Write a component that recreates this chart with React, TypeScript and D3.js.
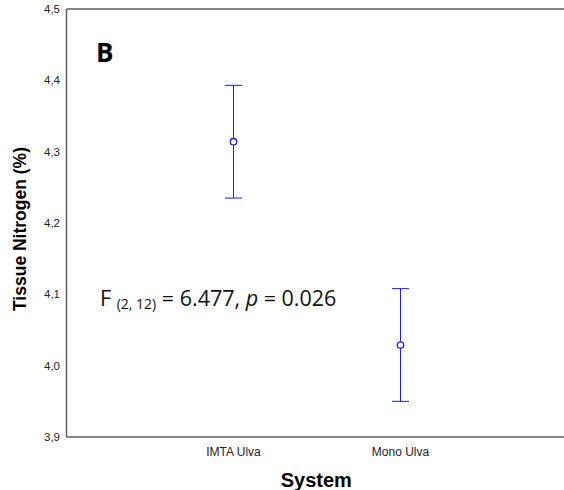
import React from 'react';
import * as d3 from 'd3';

// groups and their means with error half-width
const systems = ['IMTA Ulva', 'Mono Ulva'];
const means = [4.314, 4.029];
const errors = [0.079, 0.079];
const yTicks = [3.9, 4.0, 4.1, 4.2, 4.3, 4.4, 4.5];

const W = 564, H = 490;
const margin = { top: 9, right: 0, bottom: 53, left: 66.5 };

const App = () => {
    const bottom = H - margin.bottom;
    // x runs past the right edge, like the original export
    const x = d3.scalePoint<string>()
        .domain(systems)
        .range([margin.left, 567.5])
        .padding(1);
    const y = d3.scaleLinear()
        .domain([3.9, 4.5])
        .range([bottom, margin.top]);

    const fmt = (v: number) => d3.format('.1f')(v).replace('.', ',');
    const axisColor = '#5f5f5f';
    const blue = '#1a1aff';
    const cap = 8.5;

    return (
        <svg width={W} height={H} style={{ display: 'block', position: 'absolute', left: 0, top: 0, background: '#fff' }}>
            <g fontFamily="'Liberation Sans', Arial, sans-serif">
                {/* axes frame */}
                <line x1={margin.left} x2={W} y1={margin.top} y2={margin.top} stroke={axisColor} strokeWidth={1.5} />
                <line x1={margin.left} x2={W} y1={bottom} y2={bottom} stroke={axisColor} strokeWidth={1.5} />
                <line x1={margin.left} x2={margin.left} y1={margin.top} y2={bottom} stroke={axisColor} strokeWidth={1.5} />

                {yTicks.map(t => (
                    <text key={t} x={60} y={y(t)} dy="0.35em" textAnchor="end" fontSize={11.5} fill="#222">{fmt(t)}</text>
                ))}
                {systems.map(s => (
                    <text key={s} x={x(s)} y={bottom + 19} textAnchor="middle" fontSize={12} fill="#222">{s}</text>
                ))}

                <text x={(margin.left + W) / 2 + 1} y={487} textAnchor="middle" fontSize={20} fontWeight="bold">System</text>
                <text transform={`translate(26, 229) rotate(-90)`} textAnchor="middle" fontSize={17.5} fontWeight="bold">Tissue Nitrogen (%)</text>

                {/* means with error bars */}
                {systems.map((s, i) => {
                    const cx = x(s) as number;
                    const hi = y(means[i] + errors[i]);
                    const lo = y(means[i] - errors[i]);
                    return (
                        <g key={s} stroke={blue} strokeWidth={1}>
                            <line x1={cx} x2={cx} y1={hi} y2={lo} />
                            <line x1={cx - cap} x2={cx + cap} y1={hi} y2={hi} />
                            <line x1={cx - cap} x2={cx + cap} y1={lo} y2={lo} />
                            <circle cx={cx} cy={y(means[i])} r={3.2} fill="#fff" strokeWidth={1.3} />
                        </g>
                    );
                })}
            </g>

            <text x={96} y={62} fontFamily="'Open Sans', sans-serif" fontWeight="bold" fontSize={26}>B</text>
            <text x={100} y={306} fontFamily="'Open Sans', sans-serif" fontSize={21.5} fill="#111">
                F <tspan fontSize={14} dy={3}>(2, 12)</tspan><tspan dy={-3}> = 6.477, </tspan><tspan fontStyle="italic">p</tspan> = 0.026
            </text>
        </svg>
    );
};

export default App;
